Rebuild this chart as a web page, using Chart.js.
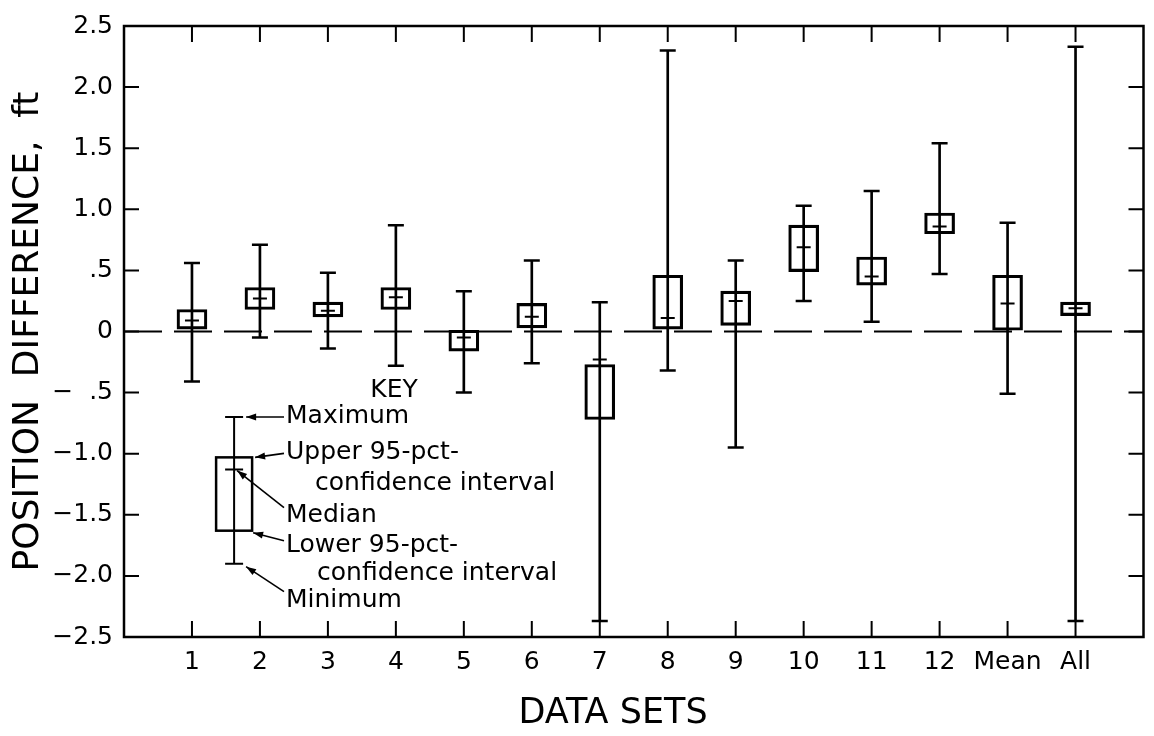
<!DOCTYPE html>
<html>
<head>
<meta charset="utf-8">
<script src="https://cdn.jsdelivr.net/npm/chart.js@4.4.1/dist/chart.umd.min.js"></script>
<style>
    html, body { margin: 0; padding: 0; background: #fff; }
    #wrap { width: 1154px; height: 736px; }
</style>
</head>
<body>
<div id="wrap"><canvas id="myChart" width="1154" height="736"></canvas></div>
<script>
// values, in ft
const categories = ['1', '2', '3', '4', '5', '6', '7', '8', '9', '10', '11', '12', 'Mean', 'All'];
const maxima  = [0.56, 0.71, 0.48, 0.87, 0.33, 0.58, 0.24, 2.30, 0.58, 1.03, 1.15, 1.54, 0.89, 2.33];
const upperCI = [0.18, 0.36, 0.24, 0.36, 0.01, 0.23, -0.27, 0.46, 0.33, 0.87, 0.61, 0.97, 0.46, 0.24];
const medians = [0.09, 0.27, 0.17, 0.28, -0.05, 0.12, -0.23, 0.11, 0.25, 0.69, 0.45, 0.86, 0.23, 0.19];
const lowerCI = [0.02, 0.18, 0.12, 0.18, -0.16, 0.03, -0.72, 0.02, 0.05, 0.49, 0.38, 0.80, 0.01, 0.13];
const minima  = [-0.41, -0.05, -0.14, -0.28, -0.50, -0.26, -2.37, -0.32, -0.95, 0.25, 0.08, 0.47, -0.51, -2.37];

const yTickValues = [2.5, 2.0, 1.5, 1.0, 0.5, 0, -0.5, -1.0, -1.5, -2.0, -2.5];
const yTickLabels = ['2.5', '2.0', '1.5', '1.0', '.5', '0', '\u2212  .5', '\u22121.0', '\u22121.5', '\u22122.0', '\u22122.5'];

// key: x position (category index) and max, upper, median, lower, min
const keyX = 1.62;
const keyStats = [-0.70, -1.03, -1.13, -1.63, -1.90];
const keyText = ['Maximum', 'Upper 95-pct-', 'confidence interval', 'Median', 'Lower 95-pct-', 'confidence interval', 'Minimum'];

const FONT = '"DejaVu Sans", "Liberation Sans", sans-serif';

// empty slot on each side so the sets sit one step in from the frame
const xLabels = ['', ...categories, ''];
const pad = arr => [null, ...arr, null];

const boxes = categories.map((c, i) => [lowerCI[i], upperCI[i]]);
const ranges = categories.map((c, i) => [minima[i], maxima[i]]);

const arrow = (ctx, x1, y1, x2, y2) => {
    ctx.beginPath();
    ctx.moveTo(x1, y1);
    ctx.lineTo(x2, y2);
    ctx.stroke();
    const a = Math.atan2(y2 - y1, x2 - x1);
    const c = Math.cos(a), s = Math.sin(a);
    ctx.beginPath();
    ctx.moveTo(x2, y2);
    ctx.lineTo(x2 - 10 * c + 3.5 * s, y2 - 10 * s - 3.5 * c);
    ctx.lineTo(x2 - 10 * c - 3.5 * s, y2 - 10 * s + 3.5 * c);
    ctx.closePath();
    ctx.fill();
};

const framePlugin = {
    id: 'frame',
    beforeDatasetsDraw(chart) {
        const { ctx, chartArea: area, scales: { x, y } } = chart;
        ctx.save();
        ctx.strokeStyle = '#000';

        // dashed zero line
        const y0 = y.getPixelForValue(0);
        ctx.lineWidth = 2;
        ctx.setLineDash([38, 12]);
        ctx.beginPath();
        ctx.moveTo(area.left, y0);
        ctx.lineTo(area.right, y0);
        ctx.stroke();
        ctx.setLineDash([]);

        // frame
        ctx.lineWidth = 2.5;
        ctx.strokeRect(area.left, area.top, area.right - area.left, area.bottom - area.top);

        // inward ticks
        ctx.lineWidth = 2;
        ctx.beginPath();
        categories.forEach((c, i) => {
            const px = x.getPixelForValue(i + 1);
            ctx.moveTo(px, area.top);
            ctx.lineTo(px, area.top + 16);
            ctx.moveTo(px, area.bottom);
            ctx.lineTo(px, area.bottom - 16);
        });
        yTickValues.forEach(v => {
            const py = y.getPixelForValue(v);
            ctx.moveTo(area.left, py);
            ctx.lineTo(area.left + 15, py);
            ctx.moveTo(area.right, py);
            ctx.lineTo(area.right - 15, py);
        });
        ctx.stroke();
        ctx.restore();
    },
    afterDraw(chart) {
        const { ctx, scales: { x, y } } = chart;
        ctx.save();
        ctx.strokeStyle = '#000';
        ctx.fillStyle = '#000';

        // key box
        const kx = x.getPixelForValue(keyX);
        const [kMax, kUp, kMed, kLow, kMin] = keyStats.map(v => y.getPixelForValue(v));
        ctx.lineWidth = 2.5;
        ctx.strokeRect(kx - 18, kUp, 36, kLow - kUp);
        ctx.lineWidth = 2;
        ctx.beginPath();
        ctx.moveTo(kx, kMax);
        ctx.lineTo(kx, kMin);
        ctx.moveTo(kx - 9, kMax);
        ctx.lineTo(kx + 9, kMax);
        ctx.moveTo(kx - 9, kMin);
        ctx.lineTo(kx + 9, kMin);
        ctx.moveTo(kx - 9, kMed);
        ctx.lineTo(kx + 9, kMed);
        ctx.stroke();

        ctx.lineWidth = 1.6;
        const tx = 284;
        arrow(ctx, tx, kMax, kx + 12, kMax);
        arrow(ctx, tx, kUp - 4, kx + 21, kUp);
        arrow(ctx, tx, kMed + 38, kx + 3, kMed + 1);
        arrow(ctx, tx, kLow + 10, kx + 19, kLow + 2);
        arrow(ctx, tx, kMin + 28, kx + 12, kMin + 3);

        ctx.font = '25px ' + FONT;
        ctx.textBaseline = 'middle';
        ctx.textAlign = 'center';
        ctx.fillText('KEY', 394, 390);
        ctx.textAlign = 'left';
        const rows = [[tx + 2, 416], [tx + 2, 452], [tx + 31, 483], [tx + 2, 515], [tx + 2, 545], [tx + 33, 573], [tx + 2, 600]];
        keyText.forEach((t, i) => ctx.fillText(t, rows[i][0], rows[i][1]));

        // x axis title
        ctx.font = '35px ' + FONT;
        ctx.textAlign = 'center';
        ctx.fillText('DATA SETS', 613, 714);
        ctx.restore();
    }
};

const data = {
    labels: xLabels,
    datasets: [
        {
            type: 'bar',
            label: '95-pct confidence interval',
            data: pad(boxes),
            backgroundColor: 'rgba(0,0,0,0)',
            borderColor: '#000',
            borderWidth: 2.5,
            borderSkipped: false,
            barThickness: 30,
            grouped: false
        },
        {
            type: 'bar',
            label: 'range',
            data: pad(ranges),
            backgroundColor: '#000',
            borderWidth: 0,
            barThickness: 2,
            grouped: false
        },
        {
            type: 'line',
            label: 'Maximum',
            data: pad(maxima),
            showLine: false,
            pointStyle: 'line',
            pointRadius: 8,
            pointBorderWidth: 2.5,
            borderColor: '#000'
        },
        {
            type: 'line',
            label: 'Minimum',
            data: pad(minima),
            showLine: false,
            pointStyle: 'line',
            pointRadius: 8,
            pointBorderWidth: 2.5,
            borderColor: '#000'
        },
        {
            type: 'line',
            label: 'Median',
            data: pad(medians),
            showLine: false,
            pointStyle: 'line',
            pointRadius: 7,
            pointBorderWidth: 2,
            borderColor: '#000'
        }
    ]
};

const config = {
    type: 'bar',
    data: data,
    plugins: [framePlugin],
    options: {
        responsive: false,
        animation: false,
        events: [],
        layout: { padding: { left: 0, right: 3, top: 22, bottom: 0 } },
        plugins: {
            legend: { display: false },
            tooltip: { enabled: false }
        },
        scales: {
            x: {
                type: 'category',
                offset: false,
                grid: { display: false, drawTicks: false },
                border: { display: false },
                ticks: {
                    autoSkip: false,
                    maxRotation: 0,
                    padding: 10,
                    color: '#000',
                    font: { family: FONT, size: 25 }
                },
                afterFit: scale => {
                    scale.height = 99;
                    scale.paddingLeft = 0;
                    scale.paddingRight = 0;
                }
            },
            y: {
                min: -2.5,
                max: 2.5,
                grid: { display: false, drawTicks: false },
                border: { display: false },
                ticks: {
                    stepSize: 0.5,
                    padding: 11,
                    color: '#000',
                    font: { family: FONT, size: 25 },
                    callback: v => {
                        const i = yTickValues.findIndex(t => Math.abs(t - v) < 1e-6);
                        return i < 0 ? '' : yTickLabels[i];
                    }
                },
                title: {
                    display: true,
                    text: 'POSITION  DIFFERENCE,  ft',
                    color: '#000',
                    font: { family: FONT, size: 36 },
                    padding: { top: 7, bottom: 0 }
                },
                afterFit: scale => { scale.width = 124; }
            }
        }
    }
};

var myChart = new Chart(
    document.getElementById('myChart'),
    config
);
</script>
</body>
</html>
